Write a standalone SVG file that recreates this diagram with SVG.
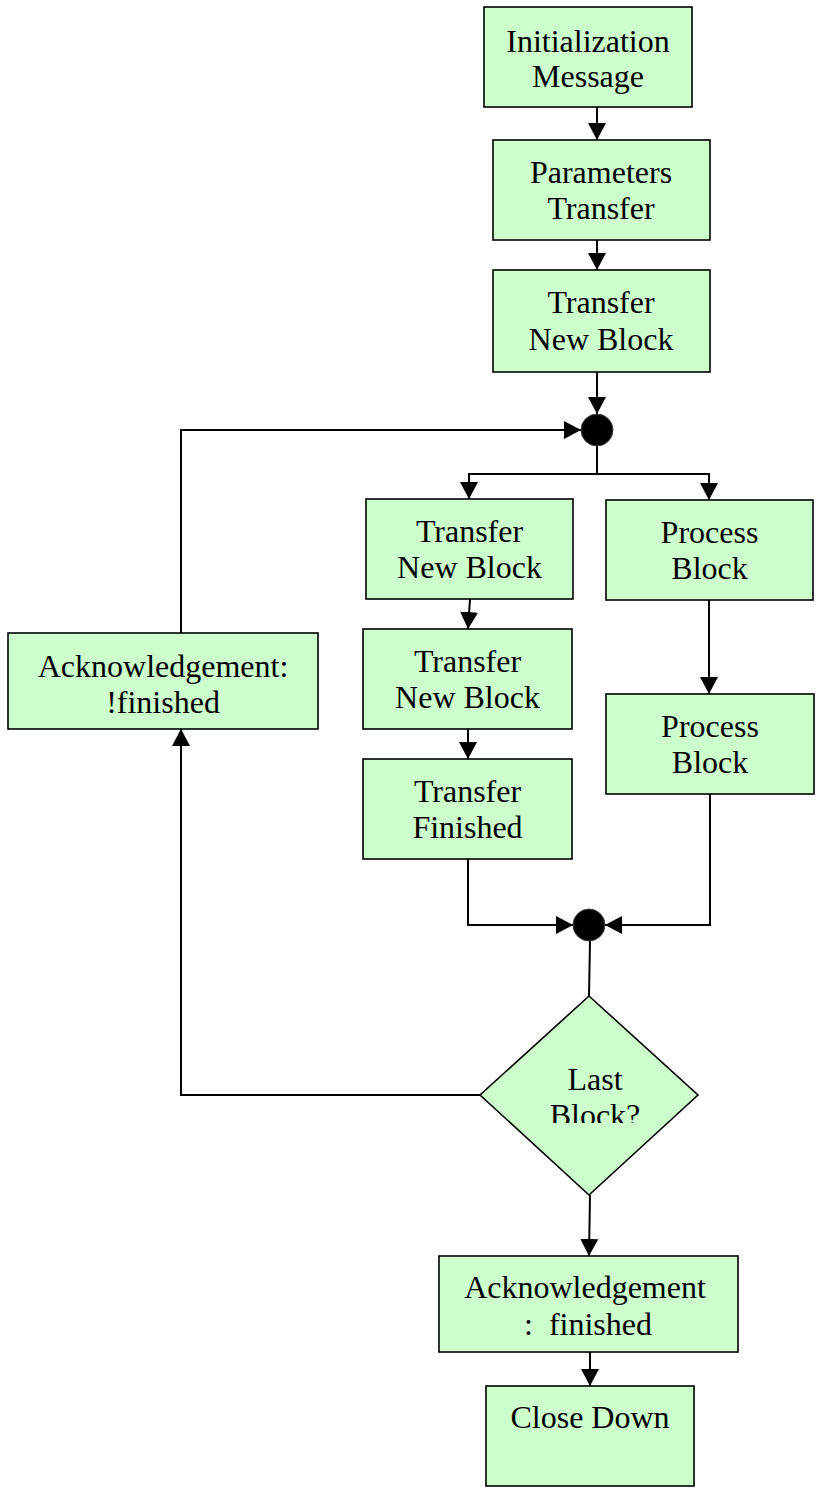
<svg xmlns="http://www.w3.org/2000/svg" width="817" height="1488" viewBox="0 0 817 1488">
<style>
.box{fill:#CCFFCC;stroke:#000;stroke-width:1.6}
.t{font-family:"Liberation Serif","Times New Roman",serif;font-size:32px;fill:#000;text-anchor:middle}
.c{fill:none;stroke:#000;stroke-width:2}
.dot{fill:#000;stroke:#444;stroke-width:1}
</style>
<defs>
<marker id="ah" viewBox="0 0 17 18" refX="17" refY="9" markerWidth="17" markerHeight="18" markerUnits="userSpaceOnUse" orient="auto">
<path d="M0,0 L17,9 L0,18 Z" fill="#000"/>
</marker>
<clipPath id="dclip"><rect x="470" y="990" width="240" height="133"/></clipPath>
</defs>
<rect width="817" height="1488" fill="#fff"/>

<g id="connectors">
<line class="c" x1="597" y1="107" x2="597" y2="140" marker-end="url(#ah)"/>
<line class="c" x1="597" y1="240" x2="597" y2="270" marker-end="url(#ah)"/>
<line class="c" x1="597" y1="372" x2="597" y2="414" marker-end="url(#ah)"/>
<polyline class="c" points="181,633 181,430 581,430" marker-end="url(#ah)"/>
<line class="c" x1="597" y1="446" x2="597" y2="474"/>
<polyline class="c" points="597,474 469,474 469,499" marker-end="url(#ah)"/>
<polyline class="c" points="597,474 709,474 709,500" marker-end="url(#ah)"/>
<line class="c" x1="470" y1="599" x2="468" y2="629" marker-end="url(#ah)"/>
<line class="c" x1="468" y1="729" x2="468" y2="759" marker-end="url(#ah)"/>
<line class="c" x1="709" y1="600" x2="709" y2="694" marker-end="url(#ah)"/>
<polyline class="c" points="468,859 468,925 573,925" marker-end="url(#ah)"/>
<polyline class="c" points="710,794 710,925 605,925" marker-end="url(#ah)"/>
<line class="c" x1="590" y1="941" x2="589" y2="996"/>
<polyline class="c" points="480,1095 181,1095 181,729" marker-end="url(#ah)"/>
<line class="c" x1="590" y1="1195" x2="589" y2="1256" marker-end="url(#ah)"/>
<line class="c" x1="590" y1="1352" x2="590" y2="1386" marker-end="url(#ah)"/>
</g>

<g id="n1"><rect class="box" x="484" y="7" width="208" height="100"/>
<text class="t" x="588" y="52">Initialization</text><text class="t" x="588" y="87">Message</text></g>

<g id="n2"><rect class="box" x="493" y="140" width="217" height="100"/>
<text class="t" x="601" y="183">Parameters</text><text class="t" x="601" y="219">Transfer</text></g>

<g id="n3"><rect class="box" x="493" y="270" width="217" height="102"/>
<text class="t" x="601" y="313">Transfer</text><text class="t" x="601" y="350">New Block</text></g>

<g id="j1"><circle class="dot" cx="597" cy="430" r="16"/></g>

<g id="n4"><rect class="box" x="366" y="499" width="207" height="100"/>
<text class="t" x="469.5" y="542">Transfer</text><text class="t" x="469.5" y="578">New Block</text></g>

<g id="p1"><rect class="box" x="606" y="500" width="207" height="100"/>
<text class="t" x="709.5" y="543">Process</text><text class="t" x="709.5" y="579">Block</text></g>

<g id="n5"><rect class="box" x="363" y="629" width="209" height="100"/>
<text class="t" x="467.5" y="672">Transfer</text><text class="t" x="467.5" y="708">New Block</text></g>

<g id="p2"><rect class="box" x="606" y="694" width="208" height="100"/>
<text class="t" x="710" y="737">Process</text><text class="t" x="710" y="773">Block</text></g>

<g id="n6"><rect class="box" x="363" y="759" width="209" height="100"/>
<text class="t" x="467.5" y="802">Transfer</text><text class="t" x="467.5" y="838">Finished</text></g>

<g id="ackn"><rect class="box" x="8" y="633" width="310" height="96"/>
<text class="t" x="163" y="677">Acknowledgement:</text><text class="t" x="163" y="713">!finished</text></g>

<g id="j2"><circle class="dot" cx="589" cy="925" r="16"/></g>

<g id="dec"><polygon class="box" points="589,996 698,1095 589,1195 480,1095"/>
<g clip-path="url(#dclip)"><text class="t" x="595" y="1090">Last</text><text class="t" x="595" y="1126">Block?</text></g></g>

<g id="ackf"><rect class="box" x="439" y="1256" width="299" height="96"/>
<text class="t" x="585" y="1298">Acknowledgement</text><text class="t" x="588" y="1335" xml:space="preserve">:  finished</text></g>

<g id="close"><rect class="box" x="486" y="1386" width="208" height="100"/>
<text class="t" x="590" y="1428">Close Down</text></g>
</svg>
